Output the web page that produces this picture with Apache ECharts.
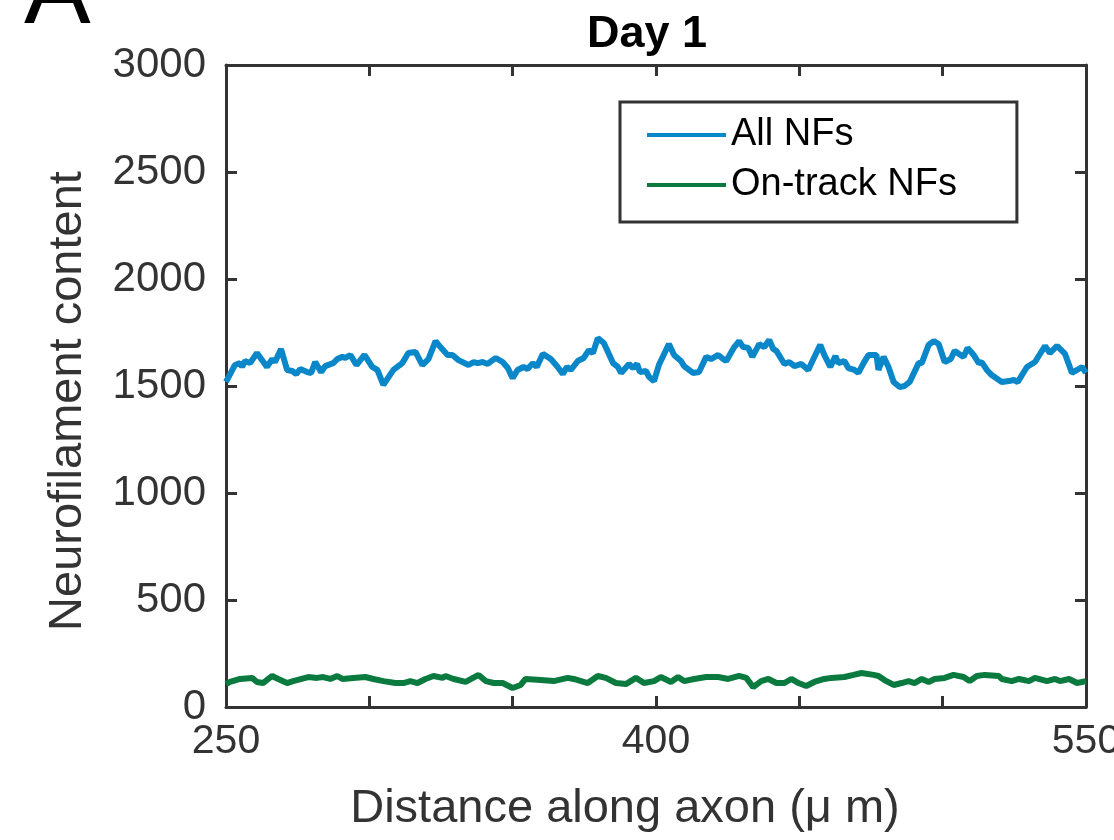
<!DOCTYPE html>
<html>
<head>
<meta charset="utf-8">
<script src="https://cdn.jsdelivr.net/npm/echarts@6/dist/echarts.min.js"></script>
<style>html,body{margin:0;padding:0;background:#fff;overflow:hidden}#c{width:1114px;height:840px}</style>
</head>
<body>
<div id="c"></div>
<script>
const chartTitle = 'Day 1';
const xTitle = 'Distance along axon (\u03bc m)';
const yTitle = 'Neurofilament content';
const seriesNames = ['All NFs', 'On-track NFs'];
const xLabelsShown = [250, 400, 550];

const distAll = [250,253.1,254.9,255.6,256.6,258.4,260.8,264.3,266.1,267.1,269.2,271.3,273.1,274.5,275.9,278.3,279.7,281.1,283.2,284.6,287.4,288.8,290.6,291.6,293.4,295.5,298.3,301.0,302.8,304.9,308.4,311.5,313.6,316.1,318.5,320.6,323.1,324.8,327.3,329.0,331.1,334.6,336.4,337.8,339.5,341.3,344.1,346.5,348.3,350.0,351.7,353.8,355.2,357.0,358.4,360.5,363.3,365.7,367.5,368.9,370.3,372.7,374.8,376.6,378.0,379.7,381.8,385.0,386.7,387.8,390.6,392.0,393.4,394.4,396.5,397.6,399.3,401.0,404.5,406.3,408.7,409.8,412.9,415.0,417.5,419.2,421.7,423.4,424.5,427.3,429.0,430.4,432.2,433.6,436.0,437.8,439.5,440.9,442.0,444.8,446.5,448.3,450.7,453.1,454.9,457.3,458.7,460.8,462.6,463.6,465.7,467.1,469.2,470.6,472.4,474.1,476.9,477.6,479.4,481.1,482.9,485.0,486.7,488.5,491.6,492.7,495.1,496.9,498.6,500.7,502.8,504.2,507.3,508.7,510.8,512.6,513.6,515.4,517.1,520.6,523.1,524.8,526.2,529.4,532.2,535.7,537.4,539.9,542.7,545.1,546.9,548.6,550];
const allNFs = [1519,1598,1607,1589,1617,1607,1654,1589,1626,1612,1673,1575,1570,1556,1579,1565,1561,1612,1565,1593,1607,1626,1636,1631,1645,1598,1645,1589,1575,1505,1575,1607,1654,1659,1598,1626,1710,1682,1645,1645,1621,1598,1612,1607,1612,1603,1631,1612,1584,1537,1575,1589,1579,1607,1589,1650,1626,1589,1556,1589,1575,1617,1631,1668,1654,1724,1701,1607,1589,1561,1603,1584,1603,1565,1570,1542,1523,1598,1696,1645,1617,1593,1561,1565,1636,1626,1645,1626,1617,1682,1710,1682,1678,1636,1696,1682,1715,1673,1664,1603,1612,1593,1603,1575,1626,1692,1645,1589,1640,1607,1617,1584,1575,1561,1607,1645,1645,1575,1636,1589,1519,1495,1500,1519,1607,1607,1692,1710,1696,1612,1626,1664,1636,1678,1645,1607,1612,1575,1551,1519,1523,1528,1519,1589,1612,1687,1654,1687,1650,1561,1575,1589,1561];

const distOnTrack = [250,251.4,254.9,259.1,260.8,262.9,266.1,268.2,271.3,273.4,278.7,281.8,283.9,286.4,288.8,290.6,294.4,298.6,301.4,304.9,309.1,311.9,314.3,316.8,319.6,322.4,325.5,326.6,329.4,333.6,338.1,340.6,343.4,346.5,350.0,352.8,354.5,359.8,364.3,369.2,371.3,376.2,379.7,382.5,386.0,389.5,393.0,395.8,399.3,401.7,405.2,407.7,409.8,413.3,417.5,421.7,425.2,429.0,431.5,433.9,436.7,439.2,442.0,444.8,447.2,449.7,452.4,455.2,458.7,461.2,465.7,468.9,471.7,475.9,477.6,479.7,482.9,485.7,488.1,490.2,492.7,495.1,497.2,500.7,503.8,507.3,509.4,511.9,514.7,519.6,520.6,524.1,526.6,530.1,532.2,536.4,539.2,540.9,544.1,546.9,550];
const onTrackNFs = [107,117,131,136,117,112,145,131,112,121,140,136,140,131,145,131,136,140,131,121,112,112,121,112,131,145,136,145,131,117,150,121,112,112,89,103,131,126,121,136,131,112,145,136,112,107,136,112,121,140,117,140,121,131,140,140,131,145,136,93,121,131,112,112,131,112,98,117,131,136,140,150,159,150,145,126,103,112,121,112,131,117,131,136,150,140,121,145,150,145,131,121,131,121,136,121,131,121,131,112,121];

const FONT = "'Liberation Sans', Arial, Helvetica, sans-serif";
const AX = '#333333';
const chart = echarts.init(document.getElementById('c'), null, {renderer: 'canvas', width: 1114, height: 840});

const baseX = {
  type: 'value', min: 250, max: 550, interval: 50,
  axisLine: {show: true, onZero: false, lineStyle: {color: AX, width: 3}},
  axisTick: {show: true, inside: true, length: 11, lineStyle: {color: AX, width: 3}},
  splitLine: {show: false}
};
const baseY = {
  type: 'value', min: 0, max: 3000, interval: 500,
  axisLine: {show: true, onZero: false, lineStyle: {color: AX, width: 3}},
  axisTick: {show: true, inside: true, length: 11, lineStyle: {color: AX, width: 3}},
  splitLine: {show: false}
};

chart.setOption({
  animation: false,
  backgroundColor: '#ffffff',
  title: {
    text: chartTitle, left: 582, top: 7,
    textStyle: {fontFamily: FONT, fontSize: 45, fontWeight: 'bold', color: '#000'}
  },
  graphic: [{
    type: 'text', left: 24, top: -55,
    style: {text: 'A', fontFamily: FONT, fontSize: 100, fill: '#000'}
  }],
  legend: {
    orient: 'vertical', left: 620, top: 102,
    data: seriesNames,
    icon: 'rect', itemWidth: 79, itemHeight: 4, itemGap: 12,
    padding: [14, 60, 18, 27],
    borderColor: AX, borderWidth: 3, backgroundColor: '#fff',
    textStyle: {fontFamily: FONT, fontSize: 38, color: '#000', lineHeight: 38}
  },
  grid: {left: 226, right: 28, top: 65, bottom: 133, containLabel: false, outerBoundsMode: 'none'},
  xAxis: [
    Object.assign({}, baseX, {
      position: 'bottom',
      name: xTitle, nameLocation: 'middle', nameGap: 79,
      nameTextStyle: {fontFamily: FONT, fontSize: 47, color: AX, padding: [0, 62, 0, 0]},
      axisLabel: {
        show: true, margin: 14, fontFamily: FONT, fontSize: 41, color: AX,
        formatter: v => (xLabelsShown.indexOf(v) >= 0 ? String(v) : '')
      }
    }),
    Object.assign({}, baseX, {position: 'top', axisLabel: {show: false}})
  ],
  yAxis: [
    Object.assign({}, baseY, {
      position: 'left',
      name: yTitle, nameLocation: 'middle', nameGap: 134,
      nameTextStyle: {fontFamily: FONT, fontSize: 47, color: AX, padding: [0, 30, 0, 0]},
      axisLabel: {show: true, margin: 20, fontFamily: FONT, fontSize: 42, color: AX,
        formatter: v => String(v)}
    }),
    Object.assign({}, baseY, {position: 'right', axisLabel: {show: false}})
  ],
  series: [
    {
      name: seriesNames[0], type: 'line', xAxisIndex: 0, yAxisIndex: 0,
      data: distAll.map((d, i) => [d, allNFs[i]]),
      showSymbol: false, symbol: 'none',
      lineStyle: {color: '#0a87c9', width: 6},
      itemStyle: {color: '#0a87c9'}
    },
    {
      name: seriesNames[1], type: 'line', xAxisIndex: 0, yAxisIndex: 0,
      data: distOnTrack.map((d, i) => [d, onTrackNFs[i]]),
      showSymbol: false, symbol: 'none',
      lineStyle: {color: '#0b7a3e', width: 6},
      itemStyle: {color: '#0b7a3e'}
    }
  ]
});
</script>
</body>
</html>
